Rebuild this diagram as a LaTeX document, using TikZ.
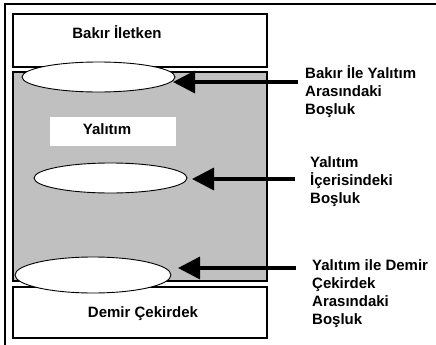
\documentclass[tikz,border=0pt]{standalone}
\usepackage{fontspec}
\setmainfont{Liberation Sans}
\usetikzlibrary{shapes.geometric,arrows.meta}
\definecolor{insul}{RGB}{192,192,192}
\begin{document}
\begin{tikzpicture}[x=1pt,y=-1pt,
  frame/.style={line width=2pt},
  layer/.style={draw, line width=2pt},
  void/.style={ellipse, draw, fill=white, line width=0.9pt, inner sep=0pt},
  pointer/.style={line width=3.5pt, -{Triangle[length=22pt,width=22pt]}},
  lbl/.style={font=\bfseries\fontsize{15}{18}\selectfont, inner sep=0pt, anchor=base},
  side/.style={font=\bfseries\fontsize{15}{18.3}\selectfont, inner sep=0pt, anchor=base west}]
\useasboundingbox (0,0) rectangle (436,345);

% outer frame (top and left edges)
\draw[frame] (436,4.5) -- (4.5,4.5) -- (4.5,345);

% layers: copper conductor, insulation, iron core
\draw[layer] (13,14.3) rectangle (266.5,66.7);
\draw[layer, fill=insul] (13,72) rectangle (266.5,281);
\draw[layer] (13,287) rectangle (266.5,338);

% label plate inside the insulation
\fill[white] (50,117) rectangle (176,146);

\node[lbl] (cu)  at (117,39)  {Bakır İletken};
\node[lbl] (ins) at (107,134) {Yalıtım};
\node[lbl] (fe)  at (143,317) {Demir Çekirdek};

% voids
\node[void, minimum width=153pt, minimum height=30pt] (v1) at (98.5,77) {};
\node[void, minimum width=153pt, minimum height=30pt] (v2) at (110.5,178) {};
\node[void, minimum width=156pt, minimum height=36pt] (v3) at (93,275) {};

% descriptions
\node[side] (d1) at (305,78) {\parbox[t]{130pt}{\raggedright Bakır İle Yalıtım\\Arasındaki\\Boşluk}};
\node[side] (d2) at (310,167) {\parbox[t]{130pt}{\raggedright Yalıtım\\İçerisindeki\\Boşluk}};
\node[side] (d3) at (312,270) {\parbox[t]{130pt}{\raggedright Yalıtım ile Demir\\Çekirdek\\Arasındaki\\Boşluk}};

% pointers
\coordinate (t1) at (298,82);  \coordinate (h1) at (173,82);
\coordinate (t2) at (295,179); \coordinate (h2) at (192,179);
\coordinate (t3) at (296,268); \coordinate (h3) at (178,268);
\draw[pointer] (t1) -- (h1);
\draw[pointer] (t2) -- (h2);
\draw[pointer] (t3) -- (h3);
\end{tikzpicture}
\end{document}
